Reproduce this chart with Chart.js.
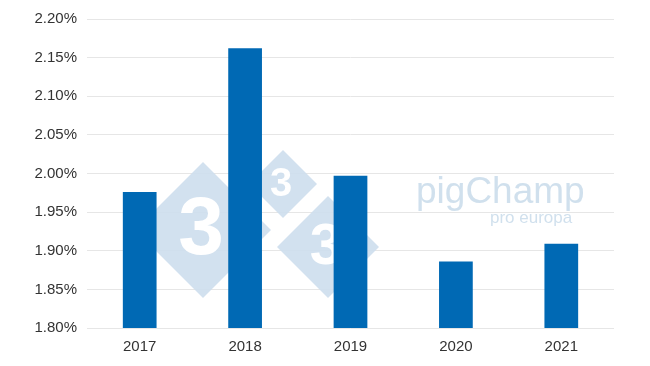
<!DOCTYPE html>
<html>
<head>
<meta charset="utf-8">
<script src="https://cdn.jsdelivr.net/npm/chart.js@4"></script>
<style>
    html, body { margin: 0; padding: 0; background: #fff; }
    #wrap { width: 650px; height: 366px; }
</style>
</head>
<body>
<div id="wrap"><canvas id="bar_chart"></canvas></div>
<script>
const years = ['2017', '2018', '2019', '2020', '2021'];
const rates = [1.976, 2.162, 1.997, 1.886, 1.909];
const yTicks = [1.80, 1.85, 1.90, 1.95, 2.00, 2.05, 2.10, 2.15, 2.20];

// faint 3tres3 / pigChamp watermark behind the bars
const watermark = {
    id: 'watermark',
    beforeDatasetsDraw: function (chart) {
        let ctx = chart.ctx;
        ctx.save();
        // [centre x, centre y, half diagonal, digit size]
        let diamonds = [[203, 230, 68, 82], [283, 184, 34, 40], [328, 247, 51, 58]];
        diamonds.forEach(function (d) {
            ctx.beginPath();
            ctx.moveTo(d[0], d[1] - d[2]);
            ctx.lineTo(d[0] + d[2], d[1]);
            ctx.lineTo(d[0], d[1] + d[2]);
            ctx.lineTo(d[0] - d[2], d[1]);
            ctx.closePath();
            ctx.fillStyle = 'rgba(205, 222, 237, 0.9)';
            ctx.fill();
            ctx.fillStyle = '#fff';
            ctx.font = 'bold ' + d[3] + 'px "Liberation Sans"';
            ctx.textAlign = 'center';
            ctx.textBaseline = 'middle';
            ctx.fillText('3', d[0] - 2, d[1] + 1);
        });
        ctx.fillStyle = 'rgba(200, 218, 234, 0.85)';
        ctx.textAlign = 'left';
        ctx.textBaseline = 'alphabetic';
        ctx.font = '37px "Liberation Sans"';
        ctx.fillText('pigChamp', 416, 203);
        ctx.font = '17px "Liberation Sans"';
        ctx.fillText('pro europa', 490, 223);
        ctx.restore();
    }
};

let ctx = document.getElementById('bar_chart').getContext('2d');
let myChart = new Chart(ctx, {
    type: 'bar',
    data: {
        labels: years,
        datasets: [{
            data: rates,
            backgroundColor: '#0069b4',
            borderWidth: 0,
            categoryPercentage: 1,
            barPercentage: 0.32
        }]
    },
    options: {
        responsive: true,
        maintainAspectRatio: false,
        animation: false,
        layout: { padding: { top: 14, right: 36, bottom: 0, left: 0 } },
        plugins: {
            legend: { display: false },
            tooltip: { enabled: false }
        },
        scales: {
            x: {
                grid: { display: false, drawTicks: false },
                border: { display: false },
                ticks: {
                    color: '#333',
                    font: { family: 'Liberation Sans', size: 15 },
                    padding: 10
                },
                afterFit: function (axis) { axis.height = 38; }
            },
            y: {
                min: yTicks[0],
                max: yTicks[yTicks.length - 1],
                afterBuildTicks: function (axis) {
                    axis.ticks = yTicks.map(function (v) { return { value: v }; });
                },
                grid: { color: '#e6e6e6', lineWidth: 1, drawTicks: false },
                border: { display: false },
                ticks: {
                    color: '#333',
                    font: { family: 'Liberation Sans', size: 15 },
                    padding: 10,
                    callback: function (v) { return v.toFixed(2) + '%'; }
                },
                afterFit: function (axis) { axis.width = 87; }
            }
        }
    },
    plugins: [watermark]
});
</script>
</body>
</html>
